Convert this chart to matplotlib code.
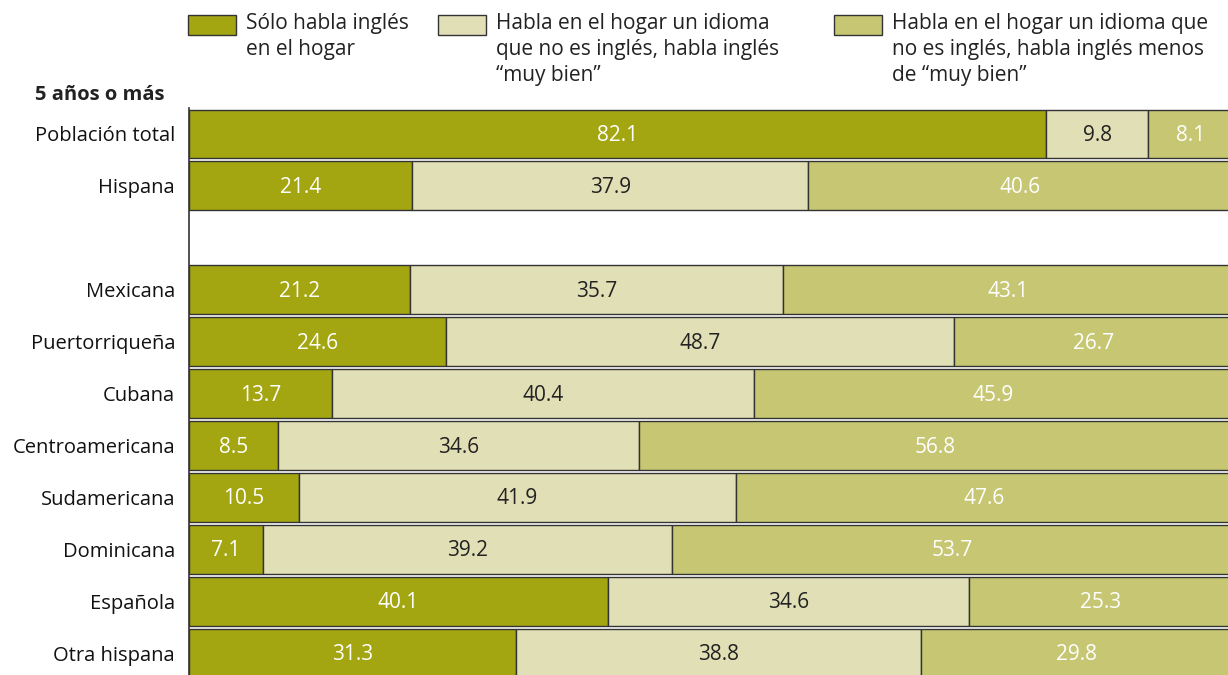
import matplotlib.pyplot as plt
from matplotlib.patches import Rectangle

plt.rcParams["font.family"] = ["Open Sans", "DejaVu Sans"]

categories = ["Población total", "Hispana", "", "Mexicana", "Puertorriqueña", "Cubana",
              "Centroamericana", "Sudamericana", "Dominicana", "Española", "Otra hispana"]
solo_ingles = [82.1, 21.4, None, 21.2, 24.6, 13.7, 8.5, 10.5, 7.1, 40.1, 31.3]
muy_bien = [9.8, 37.9, None, 35.7, 48.7, 40.4, 34.6, 41.9, 39.2, 34.6, 38.8]
menos_muy_bien = [8.1, 40.6, None, 43.1, 26.7, 45.9, 56.8, 47.6, 53.7, 25.3, 29.8]

legend_labels = ["Sólo habla inglés\nen el hogar",
                 "Habla en el hogar un idioma\nque no es inglés, habla inglés\n“muy bien”",
                 "Habla en el hogar un idioma que\nno es inglés, habla inglés menos\nde “muy bien”"]
colors = ["#A3A511", "#E0DFB5", "#C6C673"]
text_colors = ["white", "#222222", "white"]

W, H = 1228, 675
fig = plt.figure(figsize=(W / 100, H / 100), dpi=100)
ax = fig.add_axes([189 / W, 0, 1044 / W, 567 / H])

series = [solo_ingles, muy_bien, menos_muy_bien]
for i, cat in enumerate(categories):
    if solo_ingles[i] is None:
        continue
    left = 0
    for s, vals in enumerate(series):
        v = vals[i]
        ax.barh(i, v, left=left, height=0.94, color=colors[s],
                edgecolor="#333333", linewidth=1)
        ax.text(left + v / 2, i + 0.03, f"{v:.1f}", ha="center", va="center",
                fontsize=15, color=text_colors[s])
        left += v

ax.set_xlim(0, 100)
ax.set_ylim(10.42, -0.5)
ax.set_yticks(range(len(categories)))
ax.set_yticklabels(categories, fontsize=14.5, color="#111111")
ax.tick_params(axis="y", length=0, pad=10)
ax.set_xticks([])
for side in ["top", "right", "bottom"]:
    ax.spines[side].set_visible(False)
ax.spines["left"].set_color("#333333")
ax.spines["left"].set_linewidth(1.2)

fig.text(35 / W, 1 - 95 / H, "5 años o más", fontsize=14.5, fontweight="bold",
         ha="left", va="center", color="#222222")

legend_x = [188, 438, 834]
for k, lab in enumerate(legend_labels):
    x0 = legend_x[k]
    fig.patches.append(Rectangle((x0 / W, 1 - 35 / H), 48 / W, 20 / H,
                                 transform=fig.transFigure, facecolor=colors[k],
                                 edgecolor="#333333", linewidth=1))
    fig.text((x0 + 58) / W, 1 - 13 / H, lab, fontsize=15, ha="left", va="top",
             linespacing=1.32, color="#222222")

fig.savefig("out.png", dpi=100)
